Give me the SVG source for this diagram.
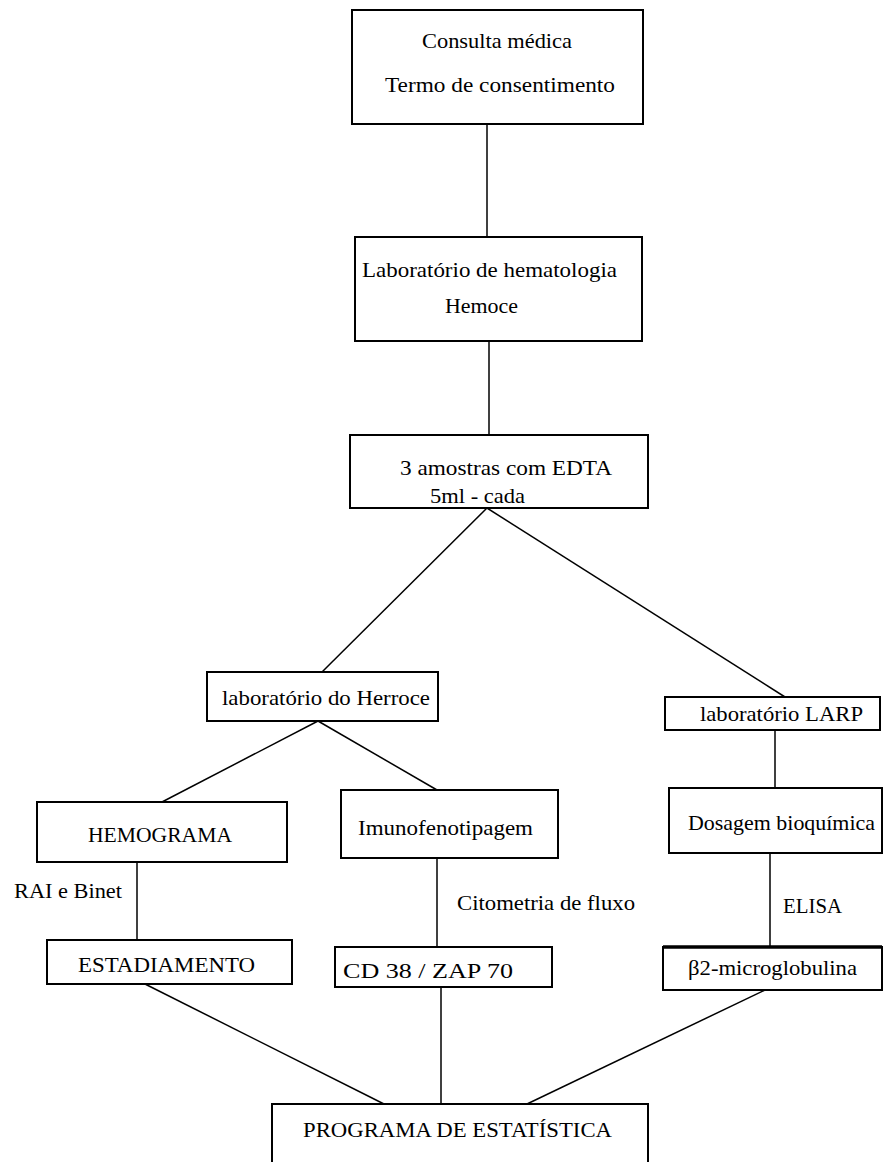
<svg xmlns="http://www.w3.org/2000/svg" width="885" height="1162" viewBox="0 0 885 1162">
<style>
.box{fill:#fff;stroke:#000;stroke-width:2}
.ln{stroke:#000;stroke-width:1.5;fill:none}
text{font-family:"Liberation Serif","Times New Roman",serif;font-size:22px;fill:#000}
</style>
<rect width="885" height="1162" fill="#fff"/>
<g id="connectors">
<line class="ln" x1="487" y1="124" x2="487" y2="237"/>
<line class="ln" x1="489" y1="341" x2="489" y2="435"/>
<line class="ln" x1="487" y1="508" x2="322" y2="672"/>
<line class="ln" x1="487" y1="508" x2="785" y2="697"/>
<line class="ln" x1="318" y1="721" x2="162" y2="802"/>
<line class="ln" x1="318" y1="721" x2="437" y2="790"/>
<line class="ln" x1="775" y1="730" x2="775" y2="788"/>
<line class="ln" x1="137" y1="862" x2="137" y2="940"/>
<line class="ln" x1="437" y1="858" x2="437" y2="947"/>
<line class="ln" x1="770" y1="853" x2="770" y2="947"/>
<line class="ln" x1="145" y1="984" x2="384" y2="1104"/>
<line class="ln" x1="441" y1="987" x2="441" y2="1104"/>
<line class="ln" x1="765" y1="990" x2="527" y2="1104"/>
<text x="14" y="898" textLength="108" lengthAdjust="spacingAndGlyphs">RAI e Binet</text>
<text x="457" y="910" textLength="178" lengthAdjust="spacingAndGlyphs">Citometria de fluxo</text>
<text x="783" y="913" textLength="59" lengthAdjust="spacingAndGlyphs">ELISA</text>
</g>
<g id="consulta">
<rect class="box" x="352" y="10" width="291" height="114"/>
<text x="422" y="48" textLength="150" lengthAdjust="spacingAndGlyphs">Consulta médica</text>
<text x="385" y="92" textLength="230" lengthAdjust="spacingAndGlyphs">Termo de consentimento</text>
</g>
<g id="lab-hematologia">
<rect class="box" x="355" y="237" width="287" height="104"/>
<text x="362" y="277" textLength="255" lengthAdjust="spacingAndGlyphs">Laboratório de hematologia</text>
<text x="445" y="313" textLength="73" lengthAdjust="spacingAndGlyphs">Hemoce</text>
</g>
<g id="amostras">
<rect class="box" x="350" y="435" width="298" height="73"/>
<text x="400" y="475" textLength="212" lengthAdjust="spacingAndGlyphs">3 amostras com EDTA</text>
<text x="430" y="503" textLength="95" lengthAdjust="spacingAndGlyphs">5ml - cada</text>
</g>
<g id="lab-hemoce">
<rect class="box" x="207" y="672" width="231" height="49"/>
<text x="222" y="705" textLength="208" lengthAdjust="spacingAndGlyphs">laboratório do Herroce</text>
</g>
<g id="lab-larp">
<rect class="box" x="665" y="697" width="215" height="33"/>
<text x="700" y="721" textLength="163" lengthAdjust="spacingAndGlyphs">laboratório  LARP</text>
</g>
<g id="hemograma">
<rect class="box" x="37" y="802" width="250" height="60"/>
<text x="88" y="842" textLength="144" lengthAdjust="spacingAndGlyphs">HEMOGRAMA</text>
</g>
<g id="imunofenotipagem">
<rect class="box" x="341" y="790" width="217" height="68"/>
<text x="358" y="835" textLength="175" lengthAdjust="spacingAndGlyphs">Imunofenotipagem</text>
</g>
<g id="dosagem">
<rect class="box" x="669" y="788" width="213" height="65"/>
<text x="688" y="830" textLength="187" lengthAdjust="spacingAndGlyphs">Dosagem bioquímica</text>
</g>
<g id="estadiamento">
<rect class="box" x="47" y="940" width="245" height="44"/>
<text x="78" y="972" textLength="177" lengthAdjust="spacingAndGlyphs">ESTADIAMENTO</text>
</g>
<g id="cd38">
<rect class="box" x="335" y="947" width="217" height="40"/>
<text x="343" y="978" textLength="170" lengthAdjust="spacingAndGlyphs">CD 38  /  ZAP 70</text>
</g>
<g id="b2m">
<rect class="box" x="663" y="947" width="219" height="43"/>
<line x1="663" y1="947" x2="882" y2="947" stroke="#000" stroke-width="3.5"/>
<text x="688" y="975" textLength="169" lengthAdjust="spacingAndGlyphs">β2-microglobulina</text>
</g>
<g id="programa">
<rect class="box" x="272" y="1104" width="376" height="80"/>
<text x="303" y="1137" textLength="309" lengthAdjust="spacingAndGlyphs">PROGRAMA DE ESTATÍSTICA</text>
</g>
</svg>
